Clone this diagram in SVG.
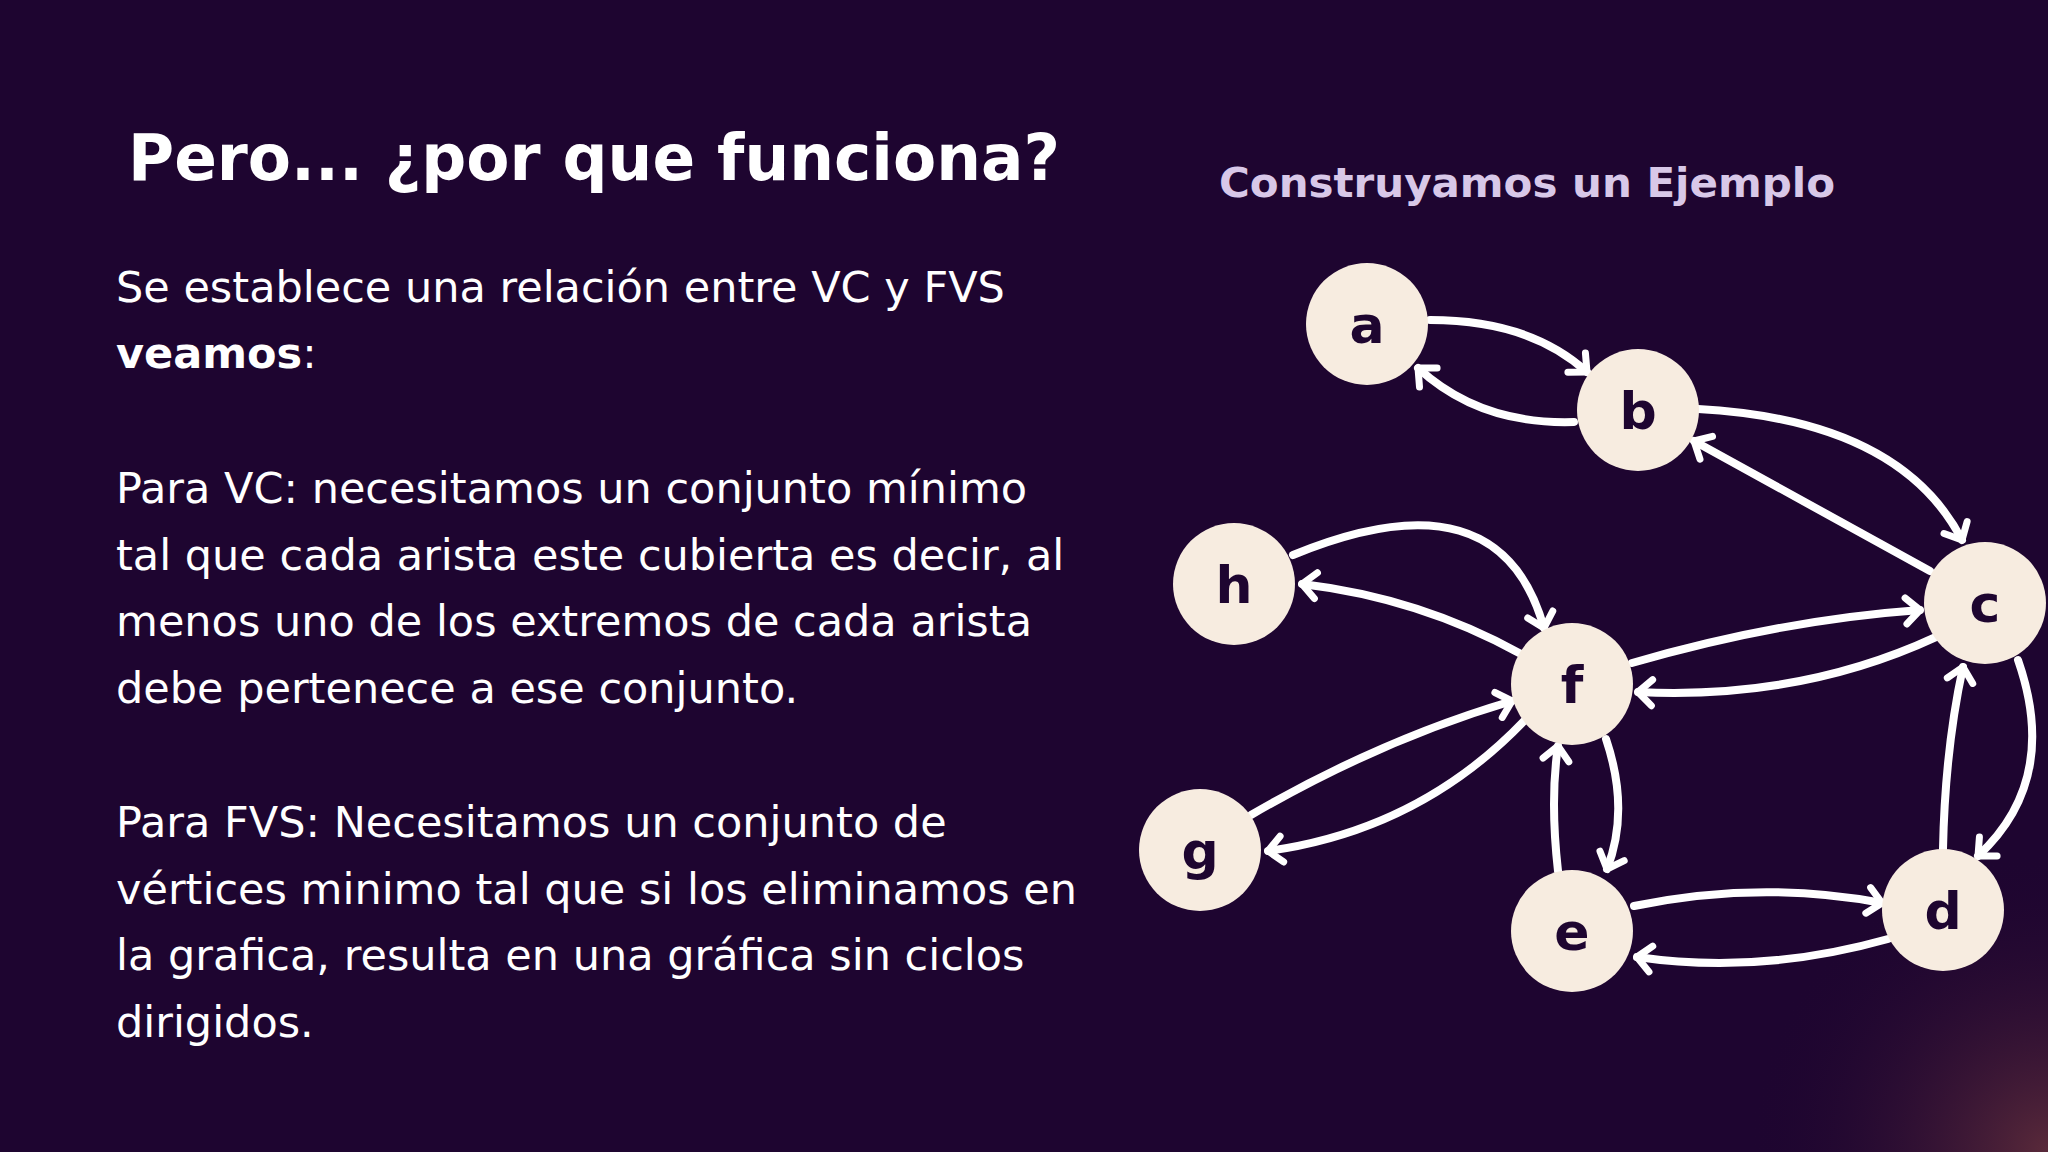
<svg xmlns="http://www.w3.org/2000/svg" width="2048" height="1152" viewBox="0 0 2048 1152">
<defs>
<radialGradient id="glow" cx="2048" cy="1152" r="300" gradientUnits="userSpaceOnUse">
<stop offset="0" stop-color="#5a2a3a"/><stop offset="1" stop-color="#1e0530" stop-opacity="0"/>
</radialGradient>
<marker id="ah" markerUnits="userSpaceOnUse" markerWidth="40" markerHeight="40" viewBox="-20 -20 40 40" refX="0" refY="0" orient="auto">
<path d="M-14,-13 L0,0 L-14,13" fill="none" stroke="#ffffff" stroke-width="7" stroke-linecap="round" stroke-linejoin="round"/>
</marker>
<style>
.t{font-family:"DejaVu Sans","Liberation Sans",sans-serif;fill:#ffffff}
.body{font-size:43px}
.n circle{fill:#f7ece0}
.n text{font-family:"DejaVu Sans","Liberation Sans",sans-serif;font-weight:bold;font-size:52px;fill:#1e0530;text-anchor:middle}
.e path{fill:none;stroke:#ffffff;stroke-width:8;stroke-linecap:round;marker-end:url(#ah)}
</style>
</defs>
<rect width="2048" height="1152" fill="#1e0530"/>
<rect width="2048" height="1152" fill="url(#glow)"/>
<text class="t" x="128" y="180" font-size="64" font-weight="bold" textLength="932" lengthAdjust="spacingAndGlyphs">Pero... ¿por que funciona?</text>
<text class="t" x="1219" y="197" font-size="40" font-weight="bold" style="fill:#d8c8e8" textLength="616" lengthAdjust="spacingAndGlyphs">Construyamos un Ejemplo</text>
<g class="t body" xml:space="preserve">
<text x="116" y="302">Se establece una relación entre VC y FVS</text>
<text x="116" y="368"><tspan font-weight="bold">veamos</tspan>:</text>
<text x="116" y="503">Para VC: necesitamos un conjunto mínimo</text>
<text x="116" y="570">tal que cada arista este cubierta es decir, al</text>
<text x="116" y="636">menos uno de los extremos de cada arista</text>
<text x="116" y="703">debe pertenece a ese conjunto.</text>
<text x="116" y="837">Para FVS:  Necesitamos un conjunto de</text>
<text x="116" y="904">vértices minimo tal que si los eliminamos en</text>
<text x="116" y="970">la grafica, resulta en una gráfica sin ciclos</text>
<text x="116" y="1037">dirigidos.</text>
</g>
<g class="e" id="connectors">
<path d="M1430,320 Q1530,320 1587,372"/>
<path d="M1574,422 Q1480,425 1418,368"/>
<path d="M1698,409 Q1900,420 1962,540"/>
<path d="M1930,571 L1694,441"/>
<path d="M1293,555 Q1500,470 1544,628"/>
<path d="M1521,654 Q1420,598 1302,584"/>
<path d="M1632,663 Q1780,620 1920,610"/>
<path d="M1936,637 Q1800,700 1638,692"/>
<path d="M1251,815 Q1380,740 1512,701"/>
<path d="M1525,720 Q1420,830 1268,851"/>
<path d="M1606,739 Q1630,810 1607,869"/>
<path d="M1558,871 Q1550,800 1558,746"/>
<path d="M1634,906 Q1760,880 1882,903"/>
<path d="M1888,939 Q1760,975 1637,957"/>
<path d="M1943,849 Q1945,750 1963,667"/>
<path d="M2018,660 Q2060,780 1978,856"/>
</g>
<g class="n" id="a"><circle cx="1367" cy="324" r="61"/><text x="1367" y="343">a</text></g>
<g class="n" id="b"><circle cx="1638" cy="410" r="61"/><text x="1638" y="429">b</text></g>
<g class="n" id="c"><circle cx="1985" cy="603" r="61"/><text x="1985" y="622">c</text></g>
<g class="n" id="h"><circle cx="1234" cy="584" r="61"/><text x="1234" y="603">h</text></g>
<g class="n" id="f"><circle cx="1572" cy="684" r="61"/><text x="1572" y="703">f</text></g>
<g class="n" id="g"><circle cx="1200" cy="850" r="61"/><text x="1200" y="869">g</text></g>
<g class="n" id="e"><circle cx="1572" cy="931" r="61"/><text x="1572" y="950">e</text></g>
<g class="n" id="d"><circle cx="1943" cy="910" r="61"/><text x="1943" y="929">d</text></g>
</svg>
